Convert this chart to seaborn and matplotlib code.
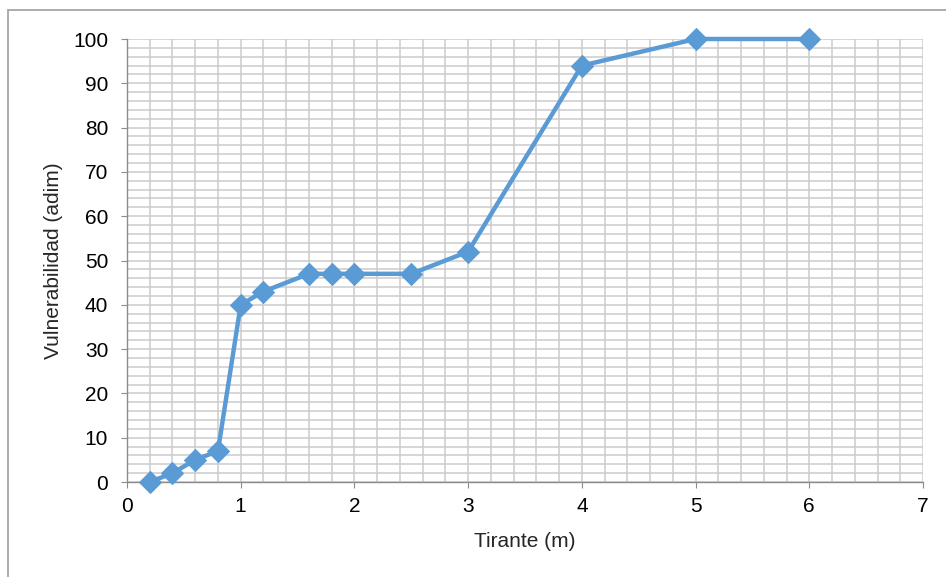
import numpy as np
import pandas as pd
import matplotlib
matplotlib.use("Agg")
import matplotlib.pyplot as plt
import seaborn as sns
from matplotlib.lines import Line2D
from matplotlib.ticker import MultipleLocator

tirante = [0.2, 0.4, 0.6, 0.8, 1.0, 1.2, 1.6, 1.8, 2.0, 2.5, 3.0, 4.0, 5.0, 6.0]
vulnerabilidad = [0, 2, 5, 7, 40, 43, 47, 47, 47, 47, 52, 94, 100, 100]

df = pd.DataFrame({"Tirante (m)": tirante, "Vulnerabilidad (adim)": vulnerabilidad})

sns.set_style("white")
plt.rcParams["font.family"] = ["Liberation Sans", "DejaVu Sans"]

fig = plt.figure(figsize=(9.46, 5.77), dpi=100)
ax = fig.add_axes([0.1342, 0.1646, 0.8415, 0.7678])

# grid: minor every 0.2 on x and every 2 on y
grid_c = "#cccccc"
ax.xaxis.set_major_locator(MultipleLocator(1))
ax.xaxis.set_minor_locator(MultipleLocator(0.2))
ax.yaxis.set_major_locator(MultipleLocator(10))
ax.yaxis.set_minor_locator(MultipleLocator(2))
ax.grid(which="both", color=grid_c, linewidth=1.1)
ax.set_axisbelow(True)

sns.lineplot(data=df, x="Tirante (m)", y="Vulnerabilidad (adim)", ax=ax,
             color="#5B9BD5", linewidth=3.2, marker="D", markersize=11,
             markeredgecolor="#5B9BD5", clip_on=False, zorder=5)

ax.set_xlim(0, 7)
ax.set_ylim(0, 100)

for side in ["top", "right"]:
    ax.spines[side].set_visible(False)
for side in ["left", "bottom"]:
    ax.spines[side].set_color("#8c8c8c")
    ax.spines[side].set_linewidth(1.0)

ax.tick_params(which="major", direction="out", length=4.5, color="#8c8c8c",
               labelsize=15, labelcolor="black", left=True, bottom=True)
ax.tick_params(axis="y", which="major", pad=9)
ax.tick_params(axis="x", which="major", pad=6.5)
ax.tick_params(which="minor", length=0)
ax.set_xlabel("Tirante (m)", fontsize=15, labelpad=11)
ax.set_ylabel("Vulnerabilidad (adim)", fontsize=15, labelpad=7)

# chart area border (top and left edges only visible)
fig.add_artist(Line2D([8 / 946, 1.0], [1 - 10 / 577, 1 - 10 / 577],
                      transform=fig.transFigure, color="#a6a6a6", linewidth=1.3))
fig.add_artist(Line2D([8 / 946, 8 / 946], [0.0, 1 - 10 / 577],
                      transform=fig.transFigure, color="#a6a6a6", linewidth=1.3))

fig.savefig("out.png", dpi=100)
